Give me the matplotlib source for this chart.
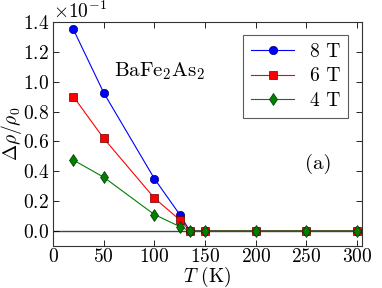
import matplotlib
matplotlib.use("Agg")
import matplotlib.pyplot as plt
from matplotlib.ticker import ScalarFormatter

plt.rcParams['font.family'] = 'serif'
plt.rcParams['font.serif'] = ['cmr10']
plt.rcParams['mathtext.fontset'] = 'cm'
plt.rcParams['axes.formatter.use_mathtext'] = True

# temperatures (K) and magnetoresistance for each field
T = [20, 50, 100, 125, 135, 150, 200, 250, 300]
mr_8T = [0.135, 0.0925, 0.035, 0.011, 0.0, 0.0, 0.0, 0.0, 0.0]
mr_6T = [0.090, 0.062, 0.022, 0.0075, 0.0, 0.0, 0.0, 0.0, 0.0]
mr_4T = [0.0475, 0.036, 0.011, 0.003, 0.0, 0.0, 0.0, 0.0, 0.0]

fig = plt.figure(figsize=(3.82, 2.88), dpi=100)
ax = fig.add_axes([0.139, 0.146, 0.809, 0.778])

ax.axhline(0, color='#444444', lw=1.0, zorder=1)
ax.plot(T, mr_8T, '-o', color='blue', lw=0.8, ms=6, mec='#000066', mew=0.5, label='8 T')
ax.plot(T, mr_6T, '-s', color='red', lw=0.8, ms=6, mec='#660000', mew=0.5, label='6 T')
ax.plot(T, mr_4T, '-d', color='green', lw=0.8, ms=6, mec='#003300', mew=0.5, label='4 T')

ax.set_xlim(0, 305)
ax.set_ylim(-0.01, 0.14)
ax.set_xticks([0, 50, 100, 150, 200, 250, 300])
ax.set_yticks([0, 0.02, 0.04, 0.06, 0.08, 0.10, 0.12, 0.14])

fmt = ScalarFormatter(useMathText=True)
fmt.set_powerlimits((0, 0))
ax.yaxis.set_major_formatter(fmt)
ax.yaxis.get_offset_text().set_fontsize(14)

ax.tick_params(direction='in', top=True, right=True, labelsize=14, length=4, width=0.6, pad=3)
ax.tick_params(axis='x', pad=1.5)
for s in ax.spines.values():
    s.set_color('#333333')
    s.set_linewidth(0.8)

ax.set_xlabel(r'$T$ (K)', fontsize=14)
ax.set_ylabel(r'$\Delta\rho/\rho_0$', fontsize=14)
ax.xaxis.set_label_coords(0.5, -0.084)
ax.yaxis.set_label_coords(-0.095, 0.5)

ax.text(60, 0.1067, r'BaFe$_2$As$_2$', fontsize=15, va='center')
ax.text(249, 0.045, '(a)', fontsize=15, va='center')

leg = ax.legend(loc='upper right', fontsize=14, numpoints=1, fancybox=False,
                handlelength=2.2, borderpad=0.4, labelspacing=0.35,
                bbox_to_anchor=(0.985, 0.985))
leg.get_frame().set_edgecolor('#333333')
leg.get_frame().set_linewidth(0.8)

fig.savefig('out.png', dpi=100)
